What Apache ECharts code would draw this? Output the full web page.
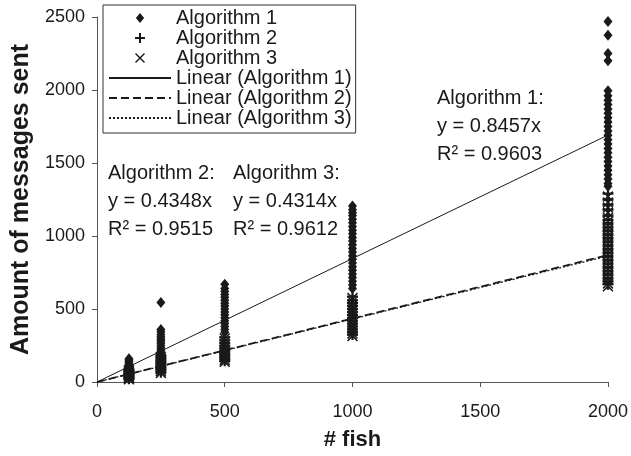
<!DOCTYPE html>
<html>
<head>
<meta charset="utf-8">
<script src="https://cdn.jsdelivr.net/npm/echarts@6/dist/echarts.min.js"></script>
<style>
  html, body { margin: 0; padding: 0; background: #fff; }
  #chart { width: 631px; height: 456px; }
</style>
</head>
<body>
<div id="chart"></div>
<script>
// number of fish per experiment
const fishCounts = [125, 250, 500, 1000, 2000];

// messages sent, one list per fish count
const alg1Msgs = [
    [160, 150, 140, 130, 120, 110, 100, 90, 80, 70, 60, 50, 40],
    [545, 360, 345, 325, 310, 295, 280, 265, 250, 235, 220, 205, 190, 175, 160, 145, 130, 115],
    [670, 640, 620, 600, 580, 560, 540, 520, 500, 480, 460, 440, 420, 400, 380, 360, 340],
    [1205, 1180, 1160, 1140, 1115, 1090, 1065, 1040, 1015, 990, 965, 940, 915, 890, 865, 840, 815, 790, 765, 740, 715, 690, 665, 640],
    [2470, 2375, 2250, 2200, 1995, 1960, 1930, 1900, 1870, 1840, 1810, 1780, 1750, 1720, 1690, 1660, 1630, 1600, 1570, 1540, 1510, 1480, 1450, 1420, 1390, 1360, 1340]
];
const alg2Msgs = [
    [85, 76, 68, 60, 52, 44, 36, 28, 22],
    [180, 165, 150, 135, 120, 105, 92, 80, 66],
    [305, 285, 265, 245, 228, 210, 192, 175, 158, 145],
    [585, 560, 540, 520, 500, 480, 460, 440, 420, 400, 380, 360, 340, 325],
    [1290, 1250, 1215, 1180, 1140, 1110, 1085, 1060, 1035, 1010, 985, 960, 935, 910, 885, 860, 835, 810, 785, 760, 735, 710, 690, 670]
];
const alg3Msgs = [
    [80, 72, 64, 56, 48, 40, 32, 25, 18],
    [172, 158, 144, 130, 116, 102, 88, 75, 62],
    [298, 278, 258, 238, 220, 202, 185, 168, 152, 138],
    [575, 552, 530, 510, 490, 470, 450, 430, 410, 390, 370, 350, 332, 315],
    [1270, 1230, 1195, 1160, 1125, 1098, 1072, 1048, 1022, 998, 972, 948, 922, 898, 872, 848, 822, 798, 772, 748, 722, 698, 675, 655]
];

// trend line end points (x = 0 and x = 2000)
const trendX = [0, 2000];
const trend1 = [0, 1691.4];
const trend2 = [0, 869.6];
const trend3 = [0, 862.8];

const FONT = 'Liberation Sans';
const INK = '#1a1a1a';

const DIAMOND = 'path://M5,0L10,6L5,12L0,6Z';
const PLUS = 'path://M4,0H6V4H10V6H6V10H4V6H0V4H4Z';
const CROSS = 'path://M1,0L5,4L9,0L10,1L6,5L10,9L9,10L5,6L1,10L0,9L4,5L0,1Z';

function toPoints(lists) {
    const pts = [];
    lists.forEach((vals, i) => {
        vals.forEach(v => pts.push([fishCounts[i], v]));
    });
    return pts;
}

function toLine(ys) {
    return trendX.map((x, i) => [x, ys[i]]);
}

// legend entries for the trend lines: hide the dot in the middle
function lineEntry(name) {
    return { name: name, itemStyle: { color: 'rgba(0,0,0,0)', borderWidth: 0 } };
}

const chart = echarts.init(document.getElementById('chart'), null, { renderer: 'canvas' });

const annotFont = '20px "Liberation Sans"';

const option = {
    animation: false,
    backgroundColor: '#fff',
    textStyle: { fontFamily: FONT, color: INK },
    grid: { left: 97, right: 20, top: 17, bottom: 64 },
    legend: {
        orient: 'vertical',
        left: 103,
        top: 5,
        padding: [3, 4, 5, 5],
        itemGap: 0,
        itemWidth: 62,
        itemHeight: 10,
        backgroundColor: '#fff',
        borderColor: '#333',
        borderWidth: 1,
        borderRadius: 0,
        textStyle: { fontFamily: FONT, fontSize: 20, color: INK, lineHeight: 17 },
        data: [
            'Algorithm 1', 'Algorithm 2', 'Algorithm 3',
            lineEntry('Linear (Algorithm 1)'), lineEntry('Linear (Algorithm 2)'), lineEntry('Linear (Algorithm 3)')
        ]
    },
    xAxis: {
        type: 'value',
        min: 0, max: 2000, interval: 500,
        name: '# fish',
        nameLocation: 'middle',
        nameGap: 47,
        nameTextStyle: { fontFamily: FONT, fontSize: 22, fontWeight: 'bold', color: INK },
        axisLine: { lineStyle: { color: '#555', width: 1 } },
        axisTick: { show: true, length: 5, lineStyle: { color: '#555' } },
        axisLabel: { fontFamily: FONT, fontSize: 18, color: INK, margin: 21, formatter: v => String(v) },
        splitLine: { show: false }
    },
    yAxis: {
        type: 'value',
        min: 0, max: 2500, interval: 500,
        name: 'Amount of messages sent',
        nameLocation: 'middle',
        nameGap: 53,
        nameTextStyle: { fontFamily: FONT, fontSize: 25, fontWeight: 'bold', color: INK },
        axisLine: { show: true, lineStyle: { color: '#555', width: 1 } },
        axisTick: { show: true, length: 5, lineStyle: { color: '#555' } },
        axisLabel: { fontFamily: FONT, fontSize: 18, color: INK, margin: 12, formatter: v => String(v) },
        splitLine: { show: false }
    },
    graphic: [
        {
            type: 'text', left: 437, top: 84,
            style: { text: 'Algorithm 1:\ny = 0.8457x\nR² = 0.9603', font: annotFont, fill: INK, lineHeight: 28 }
        },
        {
            type: 'text', left: 108, top: 159,
            style: { text: 'Algorithm 2:\ny = 0.4348x\nR² = 0.9515', font: annotFont, fill: INK, lineHeight: 28 }
        },
        {
            type: 'text', left: 233, top: 159,
            style: { text: 'Algorithm 3:\ny = 0.4314x\nR² = 0.9612', font: annotFont, fill: INK, lineHeight: 28 }
        }
    ],
    series: [
        {
            name: 'Linear (Algorithm 1)', type: 'line', data: toLine(trend1),
            symbol: 'none', lineStyle: { color: INK, width: 1, type: 'solid' }, itemStyle: { color: INK }
        },
        {
            name: 'Linear (Algorithm 2)', type: 'line', data: toLine(trend2),
            symbol: 'none', lineStyle: { color: INK, width: 1.8, type: [8, 4] }, itemStyle: { color: INK }
        },
        {
            name: 'Linear (Algorithm 3)', type: 'line', data: toLine(trend3),
            symbol: 'none', lineStyle: { color: INK, width: 1.3, type: [2, 2] }, itemStyle: { color: INK }
        },
        {
            name: 'Algorithm 1', type: 'scatter', data: toPoints(alg1Msgs),
            symbol: DIAMOND, symbolSize: [9, 11], itemStyle: { color: INK, opacity: 1 }
        },
        {
            name: 'Algorithm 2', type: 'scatter', data: toPoints(alg2Msgs),
            symbol: PLUS, symbolSize: 11, itemStyle: { color: INK, opacity: 1 }
        },
        {
            name: 'Algorithm 3', type: 'scatter', data: toPoints(alg3Msgs),
            symbol: CROSS, symbolSize: 11, itemStyle: { color: INK, opacity: 1 }
        }
    ]
};

chart.setOption(option);
</script>
</body>
</html>
